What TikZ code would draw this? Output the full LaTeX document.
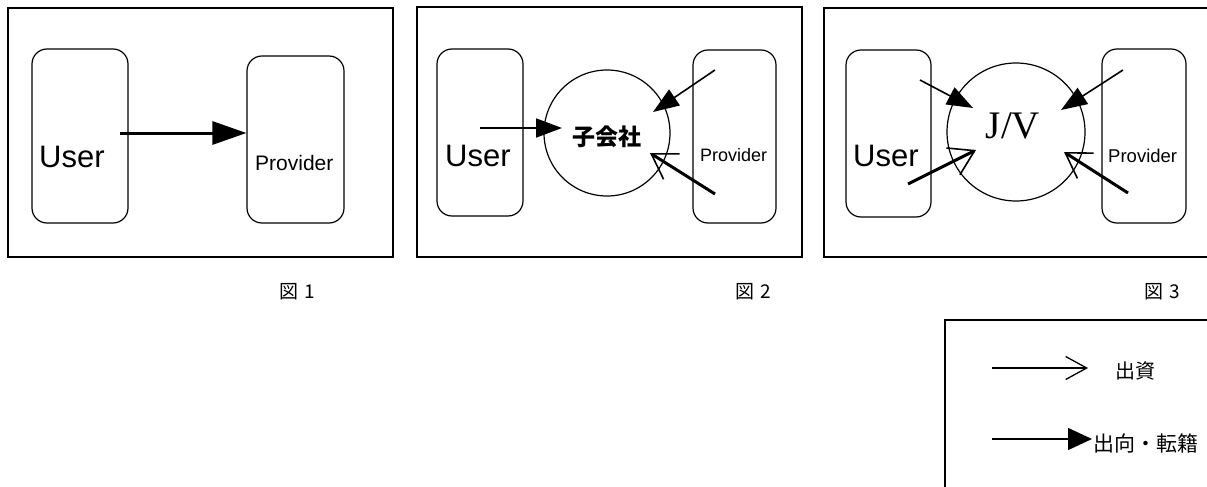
\documentclass[tikz,border=0pt]{standalone}
\usepackage{fontspec}
\setmainfont{Liberation Sans}
\newfontfamily\serifjv{Liberation Serif}
\newfontfamily\cjk{Noto Sans CJK JP}
\usetikzlibrary{arrows.meta}
\begin{document}
\begin{tikzpicture}[x=1pt,y=-1pt,
  frame/.style={draw,line width=1.5pt},
  entity/.style={draw,line width=1.2pt,rounded corners=15pt},
  company/.style={draw,line width=1.2pt,circle},
  lbl/.style={inner sep=0pt,anchor=base west},
  secondment/.style={line width=1.6pt,-{Triangle[length=26pt,width=19pt]}},
  bigsecondment/.style={line width=3pt,-{Triangle[length=34pt,width=23pt]}},
  investment/.style={line width=3pt,-{Straight Barb[length=24pt,width=30pt,line width=1.6pt]}},
  legendinv/.style={line width=1.4pt,-{Straight Barb[length=21pt,width=23pt,line width=1.3pt]}},
  caption/.style={inner sep=0pt,font=\cjk\fontsize{19pt}{22pt}\selectfont}
]
\useasboundingbox (0,0) rectangle (1207,487);
\begin{scope}
\clip (0,0) rectangle (1207,487);

% ---------- Panel 1 ----------
\draw[frame] (8,8) rectangle (393,257);
\node[entity,minimum width=96pt,minimum height=174pt] (u1) at (80,136) {};
\node[entity,minimum width=97pt,minimum height=167pt] (p1) at (295.5,139.5) {};
\node[lbl,font=\fontsize{31pt}{36pt}\selectfont] (u1t) at (39,167) {User};
\node[lbl,font=\fontsize{21pt}{25pt}\selectfont] (p1t) at (255,170) {Provider};
\coordinate (a1s) at (120,133);
\draw[bigsecondment] (a1s) -- (a1s -| p1.west);

% ---------- Panel 2 ----------
\draw[frame] (417,7) rectangle (802,257);
\node[entity,minimum width=86pt,minimum height=167pt] (u2) at (480,132.5) {};
\node[company,minimum size=126pt] (c2) at (607,133) {};
\node[entity,minimum width=83pt,minimum height=173pt] (p2) at (734.5,136.5) {};
\node[inner sep=0pt,font=\cjk\bfseries\fontsize{23pt}{27pt}\selectfont] (c2t) at (607,137) {子会社};
\node[lbl,font=\fontsize{31pt}{36pt}\selectfont] (u2t) at (445,166) {User};
\node[lbl,font=\fontsize{18pt}{22pt}\selectfont] (p2t) at (700,161) {Provider};
\coordinate (b1s) at (480,128);
\coordinate (b1e) at (562,128);
\coordinate (b2s) at (715,70);
\coordinate (b2e) at (653,112);
\coordinate (b3s) at (715,194);
\coordinate (b3e) at (650,153);
\draw[secondment] (b1s) -- (b1e);
\draw[secondment] (b2s) -- (b2e);
\draw[investment] (b3s) -- (b3e);

% ---------- Panel 3 ----------
\draw[frame] (1215,8) -- (824,8) -- (824,257) -- (1215,257);
\node[entity,minimum width=85pt,minimum height=167pt] (u3) at (888.5,133.5) {};
\node[company,minimum size=138pt] (c3) at (1016,132) {};
\node[entity,minimum width=84pt,minimum height=174pt] (p3) at (1144,136) {};
\node[inner sep=0pt,anchor=base,font=\serifjv\fontsize{39pt}{44pt}\selectfont] (c3t) at (1013,138) {J/V};
\node[lbl,font=\fontsize{31pt}{36pt}\selectfont] (u3t) at (853,166) {User};
\node[lbl,font=\fontsize{18.5pt}{22pt}\selectfont] (p3t) at (1108,162) {Provider};
\coordinate (d1s) at (920,80);
\coordinate (d1e) at (973,108);
\coordinate (d2s) at (908,184);
\coordinate (d2e) at (976,150);
\coordinate (d3s) at (1123,70);
\coordinate (d3e) at (1061,110);
\coordinate (d4s) at (1128,193);
\coordinate (d4e) at (1064,152);
\draw[secondment] (d1s) -- (d1e);
\draw[investment] (d2s) -- (d2e);
\draw[secondment] (d3s) -- (d3e);
\draw[investment] (d4s) -- (d4e);

% ---------- Captions ----------
\node[caption] (cap1) at (297,292) {図\hspace{6pt}1};
\node[caption] (cap2) at (753,292) {図\hspace{6pt}2};
\node[caption] (cap3) at (1162,292) {図\hspace{6pt}3};

% ---------- Legend ----------
\draw[frame] (1215,320) -- (945,320) -- (945,495);
\coordinate (l1s) at (992,368);
\coordinate (l1e) at (1088,368);
\coordinate (l2s) at (992,439);
\coordinate (l2e) at (1092,439);
\draw[legendinv] (l1s) -- (l1e);
\draw[line width=1.4pt,-{Triangle[length=24pt,width=22pt]}] (l2s) -- (l2e);
\node[inner sep=0pt,anchor=west,font=\cjk\fontsize{20pt}{24pt}\selectfont] (leg1) at (1115,371) {出資};
\node[inner sep=0pt,anchor=west,font=\cjk\fontsize{21pt}{25pt}\selectfont] (leg2) at (1093,443) {出向・転籍};
\end{scope}
\end{tikzpicture}
\end{document}
